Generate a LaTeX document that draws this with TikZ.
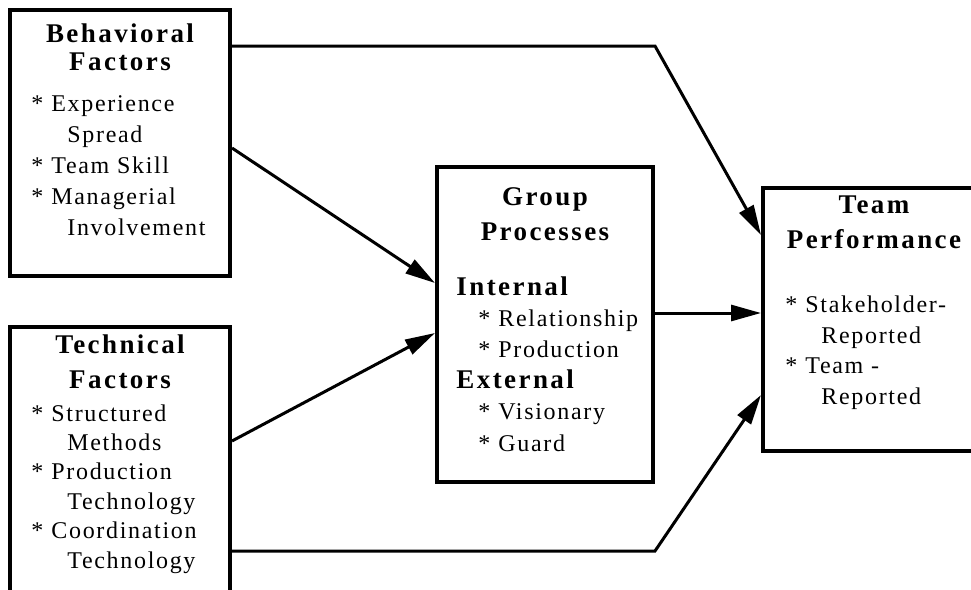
\documentclass[tikz,border=0pt]{standalone}
\usepackage{fontspec}
\setmainfont{Liberation Serif}[LetterSpace=7]
\newfontfamily\headfont{Liberation Serif}[LetterSpace=9]
\usetikzlibrary{arrows.meta,positioning,calc}
\newcommand{\bitem}[1]{\makebox[10pt][l]{*}#1}
\newcommand{\bcont}[1]{\hspace*{18pt}#1}

\begin{document}
\begin{tikzpicture}[
      x=0.5pt, y=-0.5pt,
      box/.style={draw, line width=2pt, inner sep=0pt},
      head/.style={anchor=base, align=center, inner sep=0pt, font=\headfont\bfseries\fontsize{13.5}{17.5}\selectfont},
      list/.style={anchor=base west, align=left, inner sep=0pt, font=\fontsize{12}{15.4}\selectfont},
      arrow/.style={-{Triangle[length=15pt, width=8pt]}, line width=1.5pt, line join=miter}
    ]
      \useasboundingbox (0,0) rectangle (971,590);
      \node[box, minimum width=110pt, minimum height=133pt] (beh) at (120,143) {};
      \node[box, minimum width=110pt, minimum height=136.5pt] (tech) at (120,463.5) {};
      \node[box, minimum width=108pt, minimum height=157.5pt] (grp) at (545,324.5) {};
      \node[box, minimum width=111pt, minimum height=131.5pt] (team) at (874,319.5) {};

      \node[head, font=\headfont\bfseries\fontsize{13.5}{14}\selectfont] (behhead) at ([yshift=-31pt]beh.north) {Behavioral\\Factors};
      \node[head] (techhead) at ([yshift=-31.5pt]tech.north) {Technical\\Factors};
      \node[head] (grphead) at ([yshift=-37.5pt]grp.north) {Group\\Processes};
      \node[head] (teamhead) at ([yshift=-31pt]team.north) {Team\\Performance};

      \node[list] (behlist) at ([xshift=11.5pt, yshift=-113.5pt]beh.north west)
        {\bitem{Experience}\\\bcont{Spread}\\\bitem{Team Skill}\\\bitem{Managerial}\\\bcont{Involvement}};
      \node[list, font=\fontsize{12}{14.7}\selectfont] (techlist) at ([xshift=11.5pt, yshift=-121.5pt]tech.north west)
        {\bitem{Structured}\\\bcont{Methods}\\\bitem{Production}\\\bcont{Technology}\\\bitem{Coordination}\\\bcont{Technology}};
      \node[list, font=\fontsize{12}{15.6}\selectfont] (grplist) at ([xshift=10.5pt, yshift=-143pt]grp.north west)
        {{\headfont\bfseries\fontsize{13.5}{15.6}\selectfont Internal}\\\hspace*{11pt}\bitem{Relationship}\\\hspace*{11pt}\bitem{Production}\\
         {\headfont\bfseries\fontsize{13.5}{15.6}\selectfont External}\\\hspace*{11pt}\bitem{Visionary}\\\hspace*{11pt}\bitem{Guard}};
      \node[list, font=\fontsize{12}{15.2}\selectfont] (teamlist) at ([xshift=12pt, yshift=-109pt]team.north west)
        {\bitem{Stakeholder-}\\\bcont{Reported}\\\bitem{Team -}\\\bcont{Reported}};

      \coordinate (behout) at ([yshift=-19pt]beh.north east);
      \coordinate (techout) at ([yshift=-113pt]tech.north east);
      \draw[arrow] (behout) -- (behout -| grp.east) -- ([yshift=-24.5pt]team.north west);
      \draw[arrow] ([yshift=-70pt]beh.north east) -- ([yshift=-59pt]grp.north west);
      \draw[arrow] ([yshift=-58pt]tech.north east) -- ([yshift=-84pt]grp.north west);
      \draw[arrow] ([yshift=-74pt]grp.north east) -- ([yshift=-63.5pt]team.north west);
      \draw[arrow] (techout) -- (techout -| grp.east) -- ([yshift=-104.5pt]team.north west);
    \end{tikzpicture}
\end{document}
